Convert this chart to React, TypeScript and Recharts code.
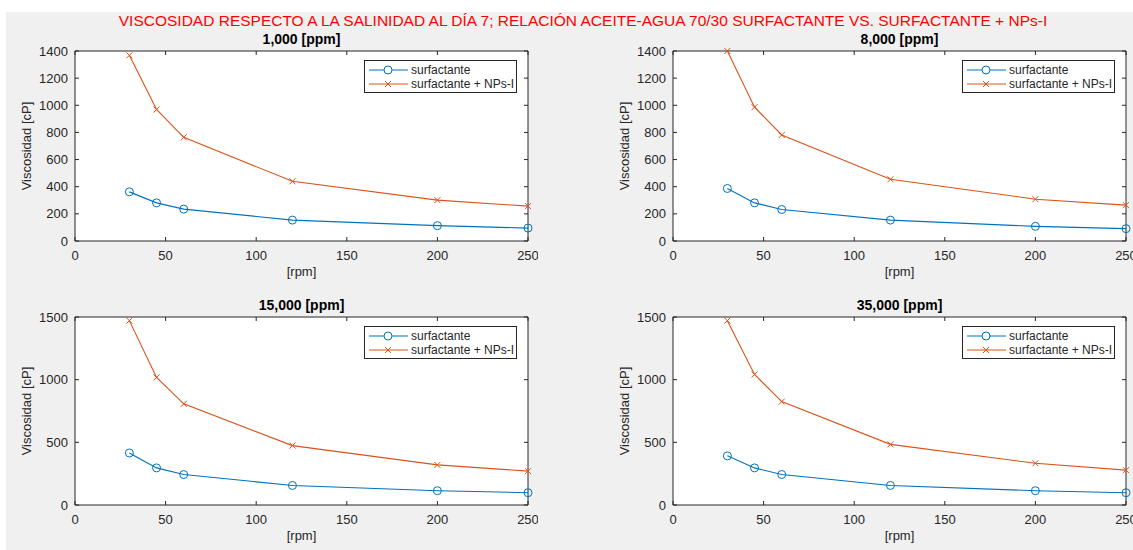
import { LineChart, Line, XAxis, YAxis, ReferenceArea } from "recharts";

const RPM = [30, 45, 60, 120, 200, 250];
const SERIES_NAMES = ["surfactante", "surfactante + NPs-I"];
const PANEL_TITLES = ["1,000 [ppm]", "8,000 [ppm]", "15,000 [ppm]", "35,000 [ppm]"];

const SURF_1000 = [362, 281, 235, 154, 113, 95];
const NPS_1000 = [1368, 969, 764, 440, 301, 257];
const SURF_8000 = [387, 281, 232, 154, 108, 91];
const NPS_8000 = [1400, 986, 781, 455, 308, 264];
const SURF_15000 = [415, 296, 243, 156, 114, 98];
const NPS_15000 = [1471, 1018, 807, 474, 320, 270];
const SURF_35000 = [392, 296, 243, 156, 114, 98];
const NPS_35000 = [1471, 1042, 825, 484, 333, 278];

const X_TICKS = [0, 50, 100, 150, 200, 250];
const Y_TICKS_TOP = [0, 200, 400, 600, 800, 1000, 1200, 1400];
const Y_TICKS_BOTTOM = [0, 500, 1000, 1500];

const TITLE = "VISCOSIDAD RESPECTO A LA SALINIDAD AL DÍA 7; RELACIÓN ACEITE-AGUA 70/30 SURFACTANTE VS. SURFACTANTE + NPs-I";

const BLUE = "#0072BD";
const ORANGE = "#D95319";
const AXIS = "#262626";
const FONT = "'Liberation Sans', Arial, Helvetica, sans-serif";

// chart-local plot box
const PL = 60;
const PW = 453;
const PT = 30;
const CHART_W = 523;

function CircleDot(props: any) {
    const { cx, cy, index } = props;
    return <circle key={`c${index}`} cx={cx} cy={cy} r={4} fill="none" stroke={BLUE} strokeWidth={1} />;
}

function CrossDot(props: any) {
    const { cx, cy, index } = props;
    const s = 3;
    return (
        <g key={`x${index}`} stroke={ORANGE} strokeWidth={1}>
            <line x1={cx - s} y1={cy - s} x2={cx + s} y2={cy + s} />
            <line x1={cx - s} y1={cy + s} x2={cx + s} y2={cy - s} />
        </g>
    );
}

function LegendBox() {
    const rows = [
        { name: SERIES_NAMES[0], color: BLUE, cross: false },
        { name: SERIES_NAMES[1], color: ORANGE, cross: true },
    ];
    return (
        <div
            style={{
                position: "absolute",
                left: PL + PW - 11 - 153,
                top: PT + 9,
                width: 151,
                height: 29,
                border: `1px solid ${AXIS}`,
                background: "#fff",
                paddingTop: 2,
            }}
        >
            {rows.map((r) => (
                <div key={r.name} style={{ display: "flex", alignItems: "center", height: 14 }}>
                    <svg width={46} height={14}>
                        <line x1={4} x2={43} y1={7} y2={7} stroke={r.color} strokeWidth={1} />
                        {r.cross ? (
                            <g stroke={r.color}>
                                <line x1={20} y1={4} x2={26} y2={10} />
                                <line x1={20} y1={10} x2={26} y2={4} />
                            </g>
                        ) : (
                            <circle cx={23} cy={7} r={4} fill="#fff" stroke={r.color} />
                        )}
                    </svg>
                    <span style={{ fontSize: 12, color: AXIS, fontFamily: FONT, whiteSpace: "nowrap" }}>{r.name}</span>
                </div>
            ))}
        </div>
    );
}

type PanelProps = {
    left: number;
    top: number;
    plotH: number;
    title: string;
    surf: number[];
    nps: number[];
    yTicks: number[];
};

function Panel({ left, top, plotH, title, surf, nps, yTicks }: PanelProps) {
    const data = RPM.map((r, i) => ({ rpm: r, s: surf[i], n: nps[i] }));
    const chartH = PT + plotH + 45;
    const pb = PT + plotH;
    const yMax = yTicks[yTicks.length - 1];

    const XTick = (p: any) => (
        <g>
            <line x1={p.x} x2={p.x} y1={pb} y2={pb - 4} stroke={AXIS} />
            <line x1={p.x} x2={p.x} y1={PT} y2={PT + 4} stroke={AXIS} />
            <text x={p.x} y={pb + 14} textAnchor="middle" dominantBaseline="central" fontSize={13} fill={AXIS} fontFamily={FONT}>
                {p.payload.value}
            </text>
        </g>
    );
    const YTick = (p: any) => (
        <g>
            <line x1={PL} x2={PL + 4} y1={p.y} y2={p.y} stroke={AXIS} />
            <line x1={PL + PW} x2={PL + PW - 4} y1={p.y} y2={p.y} stroke={AXIS} />
            <text x={PL - 7} y={p.y} textAnchor="end" dominantBaseline="central" fontSize={13} fill={AXIS} fontFamily={FONT}>
                {p.payload.value}
            </text>
        </g>
    );

    return (
        <div style={{ position: "absolute", left: left - PL, top: top - PT, width: CHART_W, height: chartH }}>
            <LineChart width={CHART_W} height={chartH} data={data} margin={{ top: PT, right: CHART_W - PL - PW, left: 0, bottom: 0 }}>
                <XAxis
                    dataKey="rpm"
                    type="number"
                    domain={[0, 250]}
                    ticks={X_TICKS}
                    height={45}
                    axisLine={false}
                    tickLine={false}
                    tick={XTick}
                    interval={0}
                />
                <YAxis
                    type="number"
                    domain={[0, yMax]}
                    ticks={yTicks}
                    width={PL}
                    axisLine={false}
                    tickLine={false}
                    tick={YTick}
                    interval={0}
                />
                <ReferenceArea x1={0} x2={250} y1={0} y2={yMax} fill="#fff" fillOpacity={1} stroke={AXIS} strokeWidth={1} />
                <Line dataKey="s" stroke={BLUE} strokeWidth={1.1} dot={CircleDot} isAnimationActive={false} />
                <Line dataKey="n" stroke={ORANGE} strokeWidth={1.1} dot={CrossDot} isAnimationActive={false} />
            </LineChart>
            <div
                style={{
                    position: "absolute",
                    left: PL,
                    width: PW,
                    top: PT - 20,
                    textAlign: "center",
                    fontFamily: FONT,
                    fontWeight: "bold",
                    fontSize: 14,
                    color: "#000",
                    lineHeight: "16px",
                }}
            >
                {title}
            </div>
            <div
                style={{
                    position: "absolute",
                    left: PL - 48 - 60,
                    top: PT + plotH / 2 - 8,
                    width: 120,
                    textAlign: "center",
                    transform: "rotate(-90deg)",
                    fontFamily: FONT,
                    fontSize: 13,
                    color: AXIS,
                    lineHeight: "16px",
                    whiteSpace: "nowrap",
                }}
            >
                Viscosidad [cP]
            </div>
            <div
                style={{
                    position: "absolute",
                    left: PL,
                    width: PW,
                    top: pb + 23,
                    textAlign: "center",
                    fontFamily: FONT,
                    fontSize: 13,
                    color: AXIS,
                    lineHeight: "16px",
                }}
            >
                [rpm]
            </div>
            <LegendBox />
        </div>
    );
}

export default function App() {
    return (
        <div style={{ position: "absolute", left: 0, top: 0, width: 1133, height: 550, overflow: "hidden", background: "#fff" }}>
            <div style={{ position: "absolute", left: 6, top: 12, right: 0, bottom: 0, background: "#f0f0f0" }} />
            <div
                style={{
                    position: "absolute",
                    left: 0,
                    width: 1166,
                    top: 12,
                    textAlign: "center",
                    fontFamily: FONT,
                    fontSize: 15.5,
                    color: "#ff0000",
                    lineHeight: "18px",
                    whiteSpace: "nowrap",
                }}
            >
                {TITLE}
            </div>
            <Panel left={75} top={51} plotH={190} title={PANEL_TITLES[0]} surf={SURF_1000} nps={NPS_1000} yTicks={Y_TICKS_TOP} />
            <Panel left={673} top={51} plotH={190} title={PANEL_TITLES[1]} surf={SURF_8000} nps={NPS_8000} yTicks={Y_TICKS_TOP} />
            <Panel left={75} top={317} plotH={188} title={PANEL_TITLES[2]} surf={SURF_15000} nps={NPS_15000} yTicks={Y_TICKS_BOTTOM} />
            <Panel left={673} top={317} plotH={188} title={PANEL_TITLES[3]} surf={SURF_35000} nps={NPS_35000} yTicks={Y_TICKS_BOTTOM} />
        </div>
    );
}
